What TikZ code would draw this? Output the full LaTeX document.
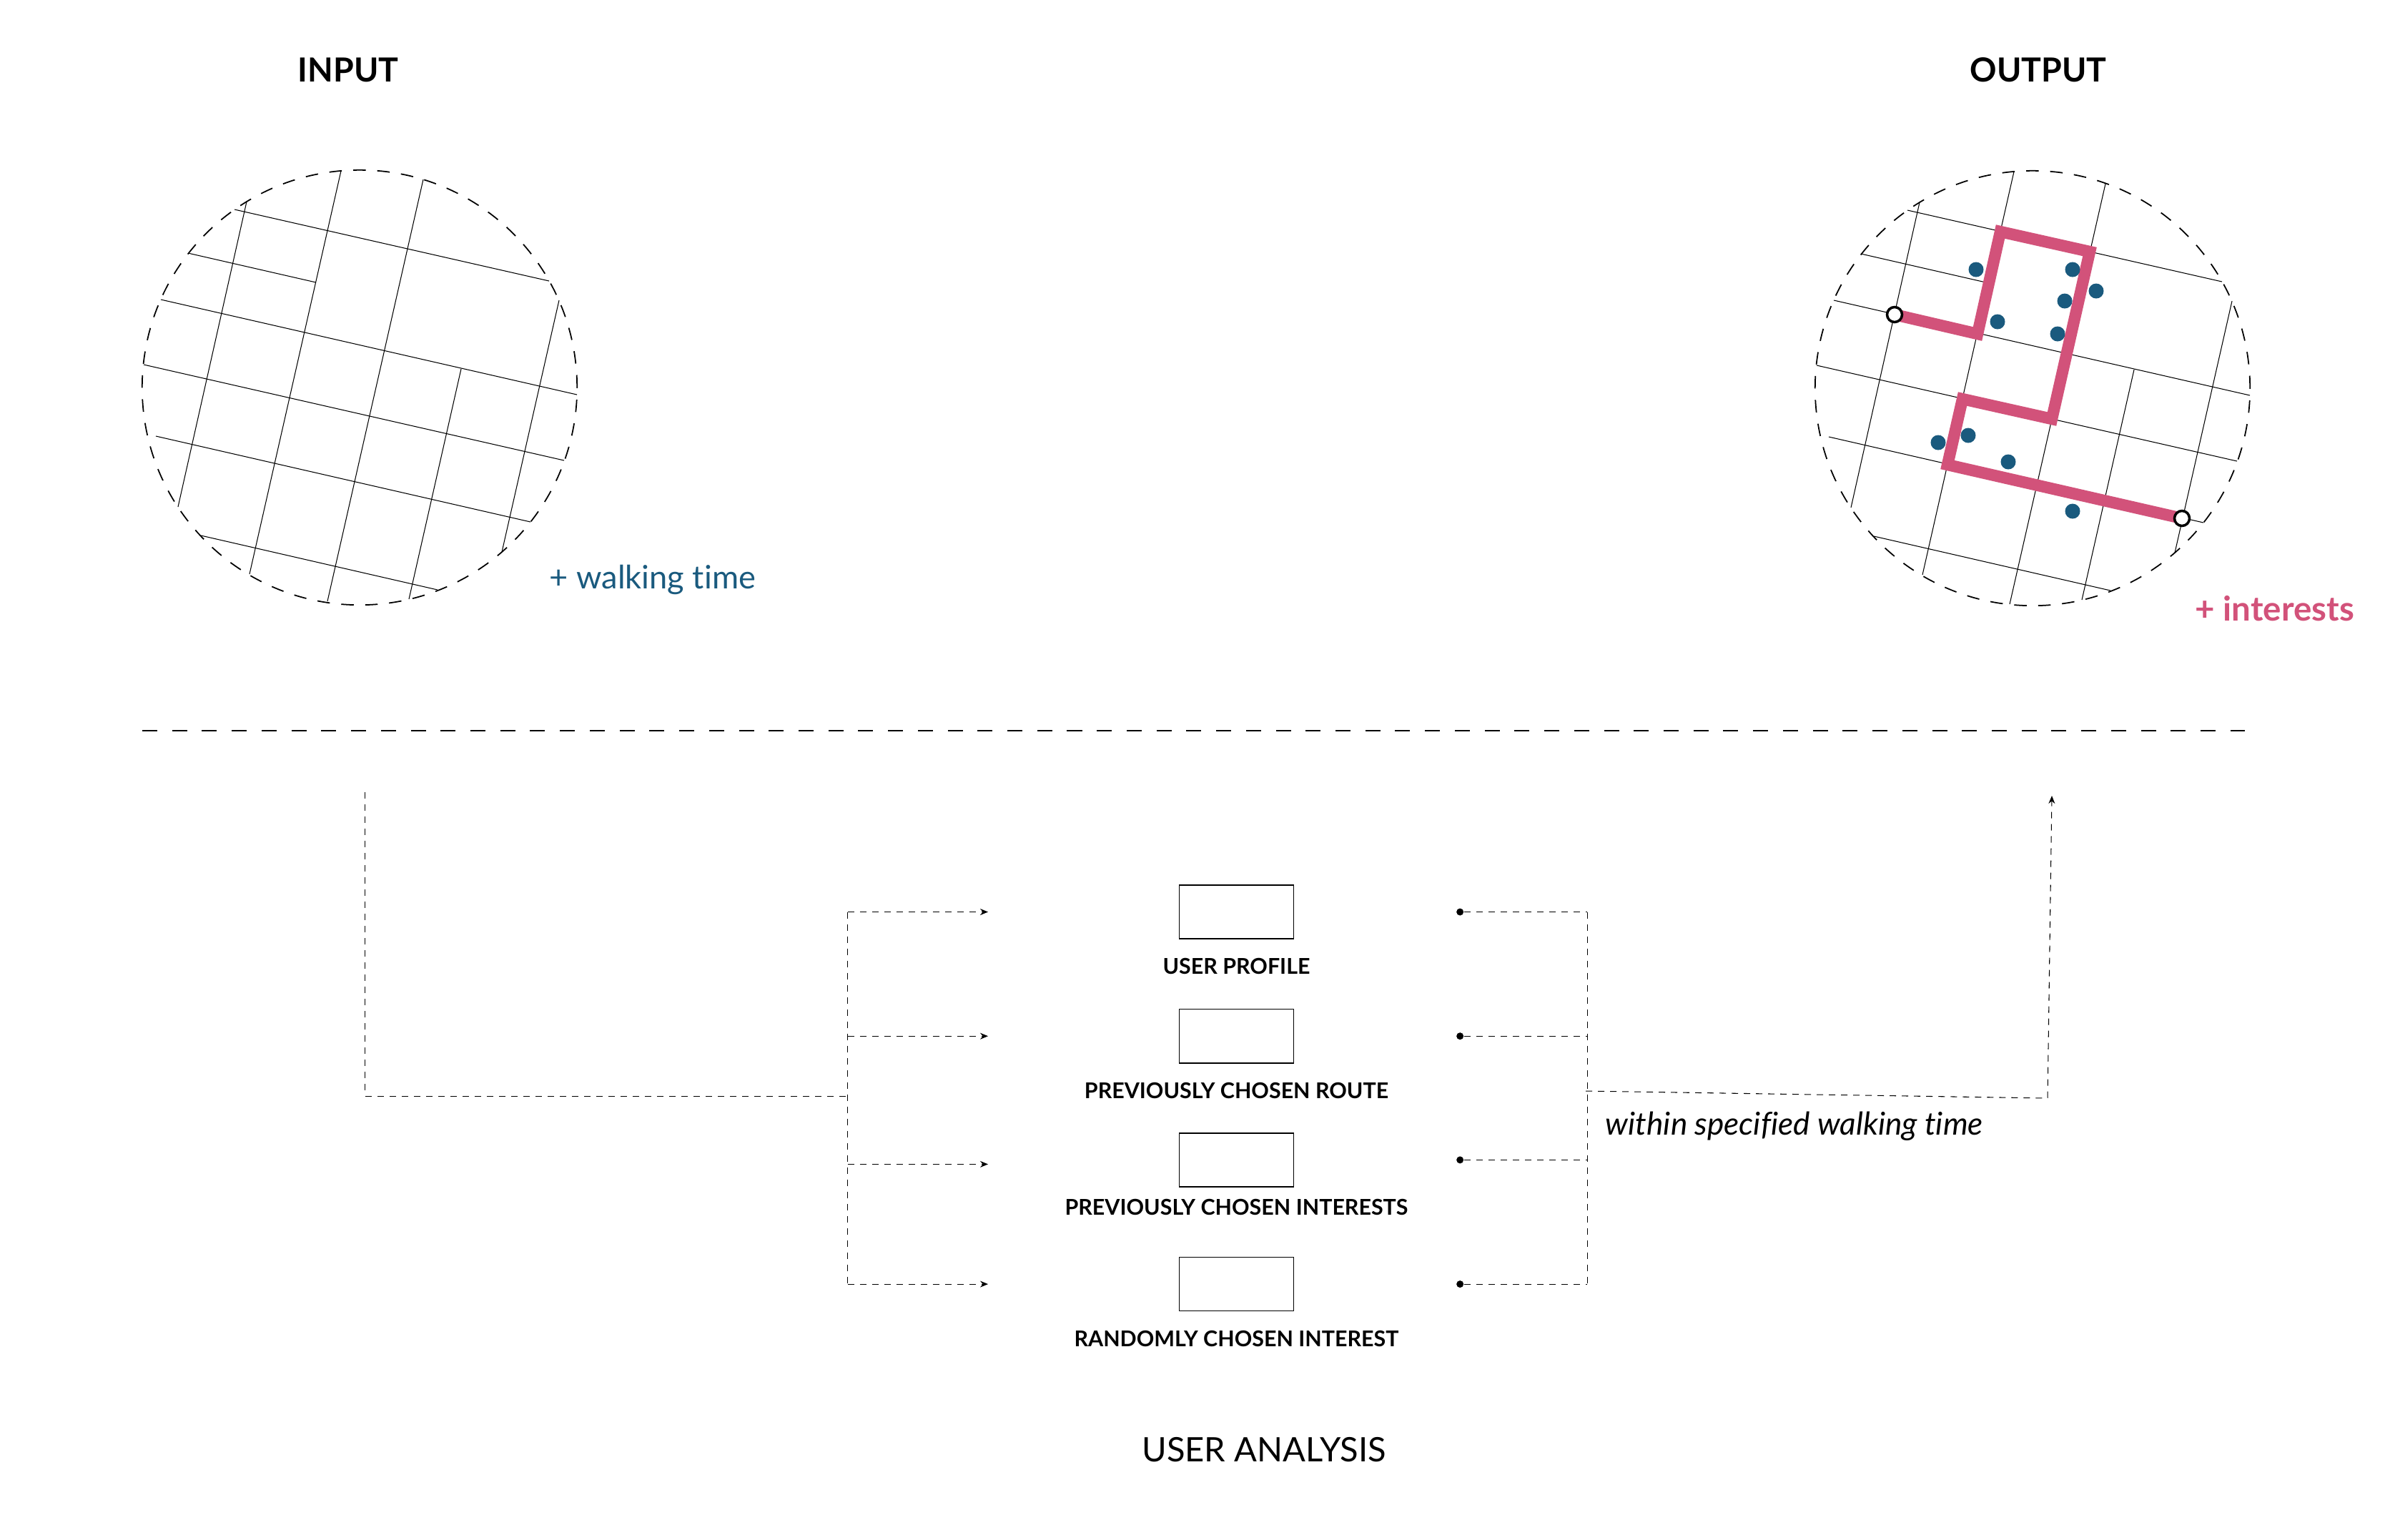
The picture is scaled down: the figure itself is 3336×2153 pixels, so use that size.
\documentclass[tikz,border=0pt]{standalone}
\usepackage{fontspec}
\setmainfont{Lato}[Ligatures=NoCommon]
\usetikzlibrary{positioning,arrows.meta}
\definecolor{routepink}{RGB}{210,82,122}
\definecolor{poiblue}{RGB}{26,90,126}

\begin{document}
\begin{tikzpicture}[
      x=0.01cm,
      y=-0.01cm,
      >={Stealth[length=1.1mm,width=0.9mm]},
      street/.style={draw=black, line width=0.3pt},
      mapedge/.style={circle, draw, dash pattern=on 0.175cm off 0.16cm, line width=0.5pt, minimum size=6.08cm, inner sep=0},
      route/.style={draw=routepink, line width=4.65pt},
      poi/.style={circle, fill=poiblue, minimum size=0.21cm, inner sep=0},
      endpoint/.style={circle, draw=black, fill=white, line width=1pt, minimum size=0.21cm, inner sep=0},
      flow/.style={line width=0.3pt, dash pattern=on 0.09cm off 0.08cm},
      sourcebox/.style={rectangle, draw, line width=0.45pt, minimum width=1.6cm, minimum height=0.75cm, inner sep=0},
      boxlabel/.style={inner sep=0, font=\fontsize{8.65}{10}\selectfont\bfseries},
      heading/.style={inner sep=0, font=\fontsize{13.2}{15}\selectfont\bfseries},
      startdot/.style={circle, fill=black, minimum size=0.1cm, inner sep=0}
    ]

      \useasboundingbox (0,0) rectangle (3336,2153);

      % the two maps
      \foreach \gridx/\gridy in {0/0,2340/1} {
        \begin{scope}[shift={(\gridx,\gridy)}]
          \foreach \ax/\ay/\bx/\by in {328/293/768/393, 263/354/442/395, 225/419/807/552, 201/510/789/644,
              218/610/742/730, 281/749/612/825, 345/282/249/709, 477/239/349/803, 645/516/572/838, 782/420/702/772}
            \draw[street] (\ax,\ay) -- (\bx,\by);
        \end{scope}
      }
      \draw[street] (592,251) -- (458,841);
      \draw[street] (2945,257) -- (2811,845);

      \node[mapedge] (inputmap) at (503,542) {};
      \node[mapedge] (outputmap) at (2843,543) {};

      \node[heading] (inputtitle) at (487,98) {INPUT};
      \node[heading] (outputtitle) at (2851,98) {OUTPUT};
      \node[anchor=west, inner sep=0, text=poiblue, font=\fontsize{12.85}{14}\selectfont] (walkingtime) at (768,811) {+ walking time};
      \node[anchor=west, inner sep=0, text=routepink, font=\fontsize{13.5}{15}\selectfont\bfseries] (interests) at (3070,851) {+ interests};

      % the route and what lies along it
      \draw[route] (2650,440) -- (2766,467) -- (2798,324) -- (2923,352) -- (2870,586) -- (2745,558) -- (2724,650) -- (3052,725);
      \foreach \px/\py in {2764/377, 2899/377, 2932/407, 2888/421, 2794/450, 2878/467, 2753/609, 2711/619, 2809/646, 2899/715}
        \node[poi] at (\px,\py) {};
      \node[endpoint] (routestart) at (2650,440) {};
      \node[endpoint] (routeend) at (3052,725) {};

      % divider
      \coordinate (dividerleft) at (199,1022);
      \coordinate (dividerright) at (3140,1022);
      \draw[line width=0.57pt, dash pattern=on 0.21cm off 0.207cm] (dividerleft) -- (dividerright);

      % user analysis
      \node[sourcebox] (profile) at (1729.5,1275.5) {};
      \node[sourcebox, below=0.97cm of profile] (route) {};
      \node[sourcebox, below=0.965cm of route] (chosen) {};
      \node[sourcebox, below=0.97cm of chosen] (random) {};

      \node[boxlabel, below=0.26cm of profile] (profilelabel) {USER PROFILE};
      \node[boxlabel, below=0.26cm of route] (routelabel) {PREVIOUSLY CHOSEN ROUTE};
      \node[boxlabel, below=0.16cm of chosen] (chosenlabel) {PREVIOUSLY CHOSEN INTERESTS};
      \node[boxlabel, below=0.26cm of random] (randomlabel) {RANDOMLY CHOSEN INTEREST};

      \node[startdot, right=2.26cm of profile] (profiledot) {};
      \node[startdot, right=2.26cm of route] (routedot) {};
      \node[startdot, right=2.26cm of chosen] (chosendot) {};
      \node[startdot, right=2.26cm of random] (randomdot) {};

      \coordinate[left=2.665cm of profile] (profilein);
      \coordinate[left=2.665cm of route] (routein);
      \coordinate[left=2.665cm of chosen, yshift=-0.06cm] (chosenin);
      \coordinate[left=2.665cm of random] (randomin);

      \coordinate (inputstart) at (510.5,1108);
      \coordinate (leftjoin) at (1185.5,1533);
      \coordinate (rightrail) at (2220,1533);
      \coordinate (rightjoin) at (2218,1526);
      \coordinate (outputbend) at (2864,1536);
      \coordinate (outputend) at (2870,1113);

      \draw[flow] (inputstart) |- (leftjoin);
      \draw[flow] (leftjoin |- profilein) -- (leftjoin |- randomin);
      \draw[flow, ->] (leftjoin |- profilein) -- (profilein);
      \draw[flow, ->] (leftjoin |- routein) -- (routein);
      \draw[flow, ->] (leftjoin |- chosenin) -- (chosenin);
      \draw[flow, ->] (leftjoin |- randomin) -- (randomin);

      \draw[flow] (rightrail |- profiledot) -- (rightrail |- randomdot);
      \draw[flow] (profiledot) -- (rightrail |- profiledot);
      \draw[flow] (routedot) -- (rightrail |- routedot);
      \draw[flow] (chosendot) -- (rightrail |- chosendot);
      \draw[flow] (randomdot) -- (rightrail |- randomdot);
      \draw[flow, ->] (rightjoin) -- (outputbend) -- (outputend);

      \node[anchor=west, inner sep=0, font=\fontsize{12.55}{14}\selectfont\itshape] (withintime) at (2245,1575) {within specified walking time};
      \node[inner sep=0, font=\fontsize{13.4}{15}\selectfont] (analysistitle) at (1768,2028) {USER ANALYSIS};
    \end{tikzpicture}
\end{document}
